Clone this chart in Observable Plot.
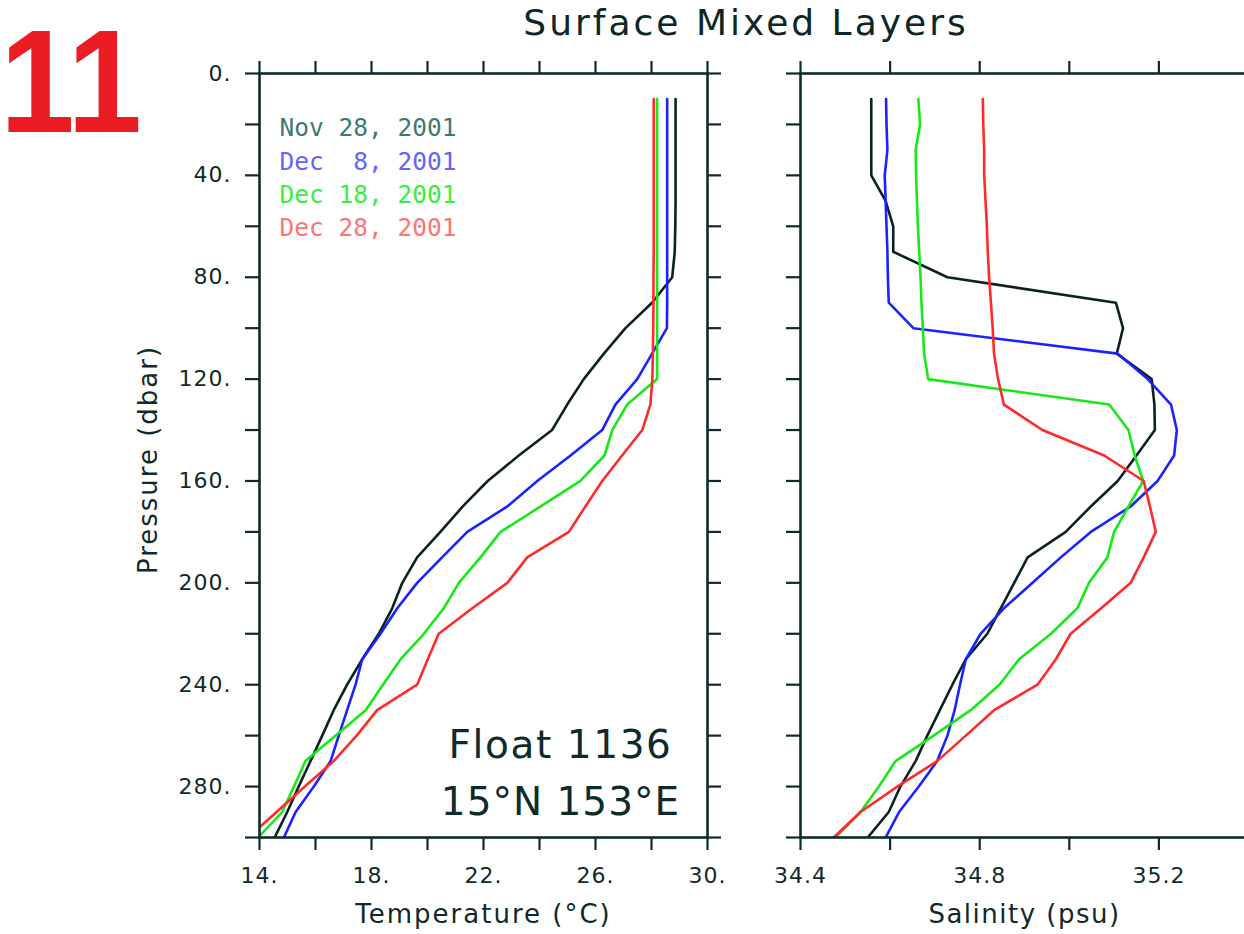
<!DOCTYPE html>
<html>
<head>
<meta charset="utf-8">
<script src="https://cdn.jsdelivr.net/npm/d3@7"></script>
<script src="https://cdn.jsdelivr.net/npm/@observablehq/plot@0.6"></script>
<style>
  html, body { margin: 0; padding: 0; background: #fff; overflow: hidden; }
  #wrap { position: relative; width: 1244px; height: 934px; overflow: hidden; background: #fff; }
  #wrap svg { position: absolute; top: 0; overflow: visible; }
  #wrap svg text { white-space: pre; }
  .title { position: absolute; font-family: "DejaVu Sans", sans-serif; color: #0d2626; white-space: nowrap; }
</style>
</head>
<body>
<div id="wrap">
  <div class="title" id="fig" style="left:0px; top:9px; font-family:'Liberation Sans', Arial, sans-serif; font-weight:bold; font-size:146px; line-height:1; color:#ec1c24; transform:scaleX(0.92); transform-origin:left top;">11</div>
  <div class="title" id="ttl" style="left:746px; top:3px; transform:translateX(-50%); font-size:36px; line-height:1.1; letter-spacing:3px;">Surface Mixed Layers</div>
</div>
<script>
// ---- data ----
const pressure = [10,20,30,40,50,60,70,80,90,100,110,120,130,140,150,160,170,180,190,200,210,220,230,240,250,260,270,280,290,300];
const dates = ["Nov 28, 2001", "Dec  8, 2001", "Dec 18, 2001", "Dec 28, 2001"];
const lineColors = ["#0a2222", "#1a22ff", "#18e818", "#ff2a2a"];
const legendColors = ["#3d7a72", "#6464ff", "#3cee3c", "#ff7474"];

const tempNov28 = [28.86,28.86,28.86,28.86,28.86,28.85,28.83,28.74,28.02,27.07,26.30,25.58,24.99,24.45,23.26,22.15,21.26,20.46,19.63,19.10,18.74,18.26,17.67,17.13,16.65,16.24,15.82,15.40,14.99,14.54];
const tempDec8  = [28.56,28.56,28.56,28.56,28.56,28.56,28.56,28.56,28.56,28.55,28.02,27.49,26.71,26.24,25.11,23.92,22.85,21.42,20.52,19.63,18.92,18.32,17.67,17.43,17.13,16.83,16.54,15.94,15.29,14.87];
const tempDec18 = [28.20,28.20,28.20,28.20,28.20,28.20,28.20,28.20,28.20,28.20,28.20,28.20,27.13,26.60,26.32,25.46,24.04,22.61,21.89,21.12,20.58,19.87,19.04,18.41,17.79,16.71,15.64,15.23,14.81,13.95];
const tempDec28 = [28.08,28.08,28.08,28.08,28.08,28.08,28.08,28.07,28.07,28.06,28.05,28.03,27.96,27.67,26.95,26.24,25.64,25.05,23.56,22.85,21.60,20.40,20.01,19.63,18.20,17.47,16.65,15.62,14.61,13.60];

const salNov28 = [34.558,34.558,34.558,34.558,34.590,34.607,34.607,34.728,35.104,35.120,35.106,35.184,35.190,35.191,35.150,35.108,35.048,34.992,34.907,34.877,34.847,34.817,34.769,34.739,34.711,34.683,34.657,34.623,34.597,34.550];
const salDec8  = [34.591,34.592,34.594,34.588,34.590,34.592,34.594,34.595,34.597,34.652,35.108,35.175,35.227,35.240,35.234,35.197,35.137,35.048,34.981,34.918,34.854,34.802,34.769,34.756,34.744,34.728,34.705,34.664,34.620,34.590];
const salDec18 = [34.663,34.667,34.657,34.658,34.660,34.662,34.665,34.668,34.670,34.673,34.676,34.685,35.089,35.132,35.146,35.165,35.132,35.100,35.085,35.044,35.018,34.959,34.888,34.844,34.780,34.697,34.612,34.575,34.534,34.478];
const salDec28 = [34.807,34.808,34.810,34.810,34.813,34.816,34.818,34.821,34.825,34.829,34.832,34.841,34.854,34.940,35.078,35.166,35.180,35.193,35.166,35.137,35.071,35.003,34.970,34.929,34.832,34.769,34.705,34.616,34.534,34.474];

const tempTicks  = [14,16,18,20,22,24,26,28,30];
const tempLabels = [14,18,22,26,30];
const salTicks   = [34.4,34.6,34.8,35.0,35.2,35.4];
const salLabels  = [34.4,34.8,35.2];
const presTicks  = [0,20,40,60,80,100,120,140,160,180,200,220,240,260,280,300];
const presLabels = [0,40,80,120,160,200,240,280];

const temps = [tempNov28, tempDec8, tempDec18, tempDec28];
const sals  = [salNov28, salDec8, salDec18, salDec28];

const rows = [];
dates.forEach((d, i) => pressure.forEach((p, j) => rows.push({date: d, p, t: temps[i][j], s: sals[i][j]})));

const ink = "#0f2a2a";
const tickFont = "DejaVu Sans, sans-serif";
const labelFont = "DejaVu Sans, sans-serif";

// ---- left panel: temperature ----
const left = Plot.plot({
  width: 760, height: 934,
  marginLeft: 259, marginRight: 53, marginTop: 73, marginBottom: 97,
  style: {color: ink, background: "transparent", fontFamily: tickFont, fontSize: "22px"},
  x: {domain: [14, 30]},
  y: {domain: [0, 300], reverse: true},
  color: {domain: dates, range: lineColors},
  marks: [
    Plot.line(rows, {x: "t", y: "p", z: "date", stroke: "date", strokeWidth: 2.6, clip: true}),
    Plot.frame({stroke: ink, strokeWidth: 2.6}),
    Plot.axisX({ticks: tempTicks, anchor: "bottom", tickSize: 13, tickPadding: 17, strokeWidth: 2.2, fontSize: 22, label: null,
      tickFormat: d => tempLabels.includes(d) ? `${d}.` : ""}),
    Plot.axisX({ticks: tempTicks, anchor: "top", tickSize: 13, strokeWidth: 2.2, label: null, tickFormat: () => ""}),
    Plot.axisY({ticks: presTicks, anchor: "left", tickSize: 14, tickPadding: 14, strokeWidth: 2.2, fontSize: 22, label: null,
      tickFormat: d => presLabels.includes(d) ? `${d}.` : ""}),
    Plot.axisY({ticks: presTicks, anchor: "right", tickSize: 13, strokeWidth: 2.2, label: null, tickFormat: () => ""}),
    Plot.text(["Temperature (°C)"], {frameAnchor: "bottom", dy: 77, fontSize: 26, fontFamily: labelFont, fill: ink, lineAnchor: "middle"}),
    Plot.text(["Pressure (dbar)"], {frameAnchor: "left", dx: -111, dy: 4, rotate: -90, fontSize: 26, fontFamily: labelFont, fill: ink, textAnchor: "middle", lineAnchor: "middle"}),
    Plot.text(["Float 1136"], {frameAnchor: "bottom-right", dx: -147, dy: -92, textAnchor: "middle", lineAnchor: "middle", fontSize: 39, fontFamily: labelFont, fill: ink}),
    Plot.text(["15°N 153°E"], {frameAnchor: "bottom-right", dx: -147, dy: -35, textAnchor: "middle", lineAnchor: "middle", fontSize: 39, fontFamily: labelFont, fill: ink}),
    ...dates.map((d, i) => Plot.text([d], {frameAnchor: "top-left", dx: 20, dy: 55 + i * 33.3, textAnchor: "start", lineAnchor: "middle",
      fontSize: 24.5, fontFamily: "DejaVu Sans Mono, monospace", fill: legendColors[i]}))
  ]
});
left.style.left = "0px";

// ---- right panel: salinity ----
const right = Plot.plot({
  width: 488, height: 934,
  marginLeft: 40, marginRight: 0, marginTop: 73, marginBottom: 97,
  style: {color: ink, background: "transparent", fontFamily: tickFont, fontSize: "22px"},
  x: {domain: [34.4, 35.4]},
  y: {domain: [0, 300], reverse: true},
  color: {domain: dates, range: lineColors},
  marks: [
    Plot.line(rows, {x: "s", y: "p", z: "date", stroke: "date", strokeWidth: 2.6, clip: true}),
    Plot.frame({stroke: ink, strokeWidth: 2.6}),
    Plot.axisX({ticks: salTicks, anchor: "bottom", tickSize: 13, tickPadding: 17, strokeWidth: 2.2, fontSize: 22, label: null,
      tickFormat: d => salLabels.includes(d) ? d.toFixed(1) : ""}),
    Plot.axisX({ticks: salTicks, anchor: "top", tickSize: 13, strokeWidth: 2.2, label: null, tickFormat: () => ""}),
    Plot.axisY({ticks: presTicks, anchor: "left", tickSize: 14, strokeWidth: 2.2, label: null, tickFormat: () => ""}),
    Plot.text(["Salinity (psu)"], {frameAnchor: "bottom", dx: 0, dy: 77, fontSize: 26, fontFamily: labelFont, fill: ink, lineAnchor: "middle"})
  ]
});
right.style.left = "760px";

const wrap = document.getElementById("wrap");
wrap.appendChild(left);
wrap.appendChild(right);

// letter spacing to mimic the wide stroke font of the original
const spacing = new Map([
  ["Temperature (°C)", 2], ["Pressure (dbar)", 2], ["Salinity (psu)", 1.5],
  ["Float 1136", 1.6], ["15°N 153°E", 1]
]);
[left, right].forEach(svg => {
  d3.select(svg).selectAll("text").each(function() {
    const s = this.textContent;
    if (spacing.has(s)) d3.select(this).attr("letter-spacing", spacing.get(s) + "px");
    else if (/^\d+\.\d*$/.test(s)) d3.select(this).attr("letter-spacing", "1px");
  });
});
</script>
</body>
</html>
